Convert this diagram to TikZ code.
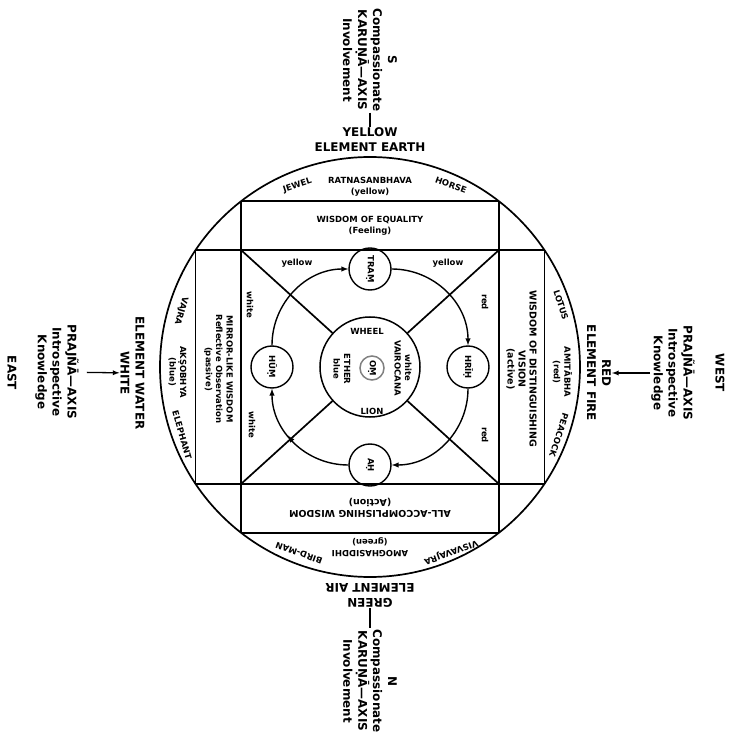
\documentclass[tikz,border=0pt]{standalone}
\usepackage{fontspec}
\setmainfont{DejaVu Sans}
\usetikzlibrary{decorations.markings}
\begin{document}
\begin{tikzpicture}[x=1bp, y=1bp,
    rim/.style={draw, line width=1.7bp},
    line/.style={draw, -latex, line width=1.4bp},
    big/.style={align=center, inner sep=1bp, font=\bfseries\fontsize{12}{15}\selectfont},
    lbl/.style={align=center, inner sep=1bp, font=\bfseries\fontsize{8.5}{10.5}\selectfont},
    ttl/.style={lbl, font=\bfseries\fontsize{9.5}{11}\selectfont},
    syl/.style={lbl, circle, draw, line width=1.4bp, minimum size=42bp, inner sep=0pt},
    sideways/.style={rotate=-90},
    upsidedown/.style={rotate=180}
]
    \useasboundingbox (-370,-373) rectangle (365,367);

    \draw [rim] (0,0) circle[radius=210];
    \draw [rim] (-174.4,117) -- (174.4,117);
    \draw [rim] (-174.4,-117) -- (174.4,-117);
    \draw [rim] (-129,165.7) -- (-129,-165.7);
    \draw [rim] (129,165.7) -- (129,-165.7);
    \draw [rim] (-129,165.7) -- (129,165.7);
    \draw [rim] (-129,-165.7) -- (129,-165.7);
    \draw [rim] (-174.4,117) -- (-174.4,-117);
    \draw [rim] (174.4,117) -- (174.4,-117);

    \coordinate (q1) at (129,117);
    \coordinate (q2) at (-129,117);
    \coordinate (q3) at (-129,-117);
    \coordinate (q4) at (129,-117);

    \node [circle, draw, line width=1.5bp, minimum size=100bp] (ctr) at (0,0) {};
    \node [lbl, sideways, circle, draw=gray, line width=1.5bp, minimum size=24bp, inner sep=0pt] (om) at (2,-1) {OṂ};
    \foreach \corner in {q1,q2,q3,q4}
        \draw [rim] (\corner) -- (ctr);

    \node [syl, sideways] (trm) at (0,98) {TRAṂ};
    \node [syl, sideways] (hrih) at (98,0) {HRĪḤ};
    \node [syl, sideways] (ah) at (0,-98) {AḤ};
    \node [syl, sideways] (hum) at (-98,0) {HŪṂ};

    \draw [line] (trm) to[bend left=45] (hrih);
    \draw [line] (hrih) to[bend left=45] (ah);
    \draw [line, postaction={decorate}, decoration={markings, mark=at position 0.58 with {\arrow{latex}}}] (ah) to[bend left=45] (hum);
    \draw [line] (hum) to[bend left=45] (trm);

    \node [lbl] (yl1) at (-73,104) {yellow};
    \node [lbl] (yl2) at (78,104) {yellow};
    \node [lbl, sideways] (rd1) at (115,65) {red};
    \node [lbl, sideways] (rd2) at (115,-68) {red};
    \node [lbl, sideways] (wh1) at (-120,62) {white};
    \node [lbl, sideways] (wh2) at (-118,-58) {white};

    \node [lbl] (whl) at (-3,36) {WHEEL};
    \node [lbl] (lion) at (2,-44) {LION};
    \node [lbl, sideways] (vai) at (33,-1) {white\\VAIROCANA};
    \node [lbl, sideways] (eth) at (-28,-2) {ETHER\\blue};

    \node [lbl] (eqw) at (0,141) {WISDOM OF EQUALITY\\(Feeling)};
    \node [ttl, upsidedown] (acw) at (0,-141) {ALL-ACCOMPLISHING WISDOM\\(Action)};
    \node [lbl, sideways] (mirw) at (-151.5,-2) {MIRROR-LIKE WISDOM\\Reflective Observation\\(passive)};
    \node [ttl, sideways] (disw) at (151.5,-2) {WISDOM OF DISTINGUISHING\\VISION\\(active)};

    \node [lbl] (rat) at (0,180) {RATNASANBHAVA\\(yellow)};
    \node [lbl, upsidedown] (amo) at (0,-180) {AMOGHASIDDHI\\(green)};
    \node [lbl, sideways] (aks) at (-192.5,-5) {AKṢOBHYA\\(blue)};
    \node [lbl, sideways] (ami) at (192.5,-5) {AMITĀBHA\\(red)};

    \node [lbl, rotate=18] (jwl) at (-72.5,181.5) {JEWEL};
    \node [lbl, rotate=-20] (hrs) at (81,182) {HORSE};
    \node [lbl, rotate=160] (brd) at (-71,-186) {BIRD-MAN};
    \node [lbl, rotate=200] (vis) at (81,-185) {VISVAVAJRA};
    \node [lbl, rotate=-106] (vjr) at (-189,56) {VAJRA};
    \node [lbl, rotate=-74] (elp) at (-188,-68) {ELEPHANT};
    \node [lbl, rotate=-72] (lts) at (191,62) {LOTUS};
    \node [lbl, rotate=-108] (pck) at (189,-68) {PEACOCK};

    \node [big, sideways] (sax) at (0,307) {S\\Compassionate\\KARUṆĀ—AXIS\\Involvement};
    \node [big] (yel) at (0,227) {YELLOW\\ELEMENT EARTH};
    \node [big, upsidedown] (grn) at (0,-228) {GREEN\\ELEMENT AIR};
    \node [big, sideways] (nax) at (0,-314) {N\\Compassionate\\KARUṆĀ—AXIS\\Involvement};
    \node [big, sideways] (east) at (-358,-6) {EAST};
    \node [big, sideways] (eax) at (-313,-5) {PRAJÑĀ—AXIS\\Introspective\\Knowledge};
    \node [big, sideways] (wat) at (-237.5,-6) {ELEMENT WATER\\WHITE};
    \node [big, sideways] (red) at (229,-6) {RED\\ELEMENT FIRE};
    \node [big, sideways] (wax) at (303,-6) {PRAJÑĀ—AXIS\\Introspective\\Knowledge};
    \node [big, sideways] (west) at (350,-6) {WEST};

    \draw [rim, line width=1.3bp] (sax) -- (yel);
    \draw [rim, line width=1.3bp] (grn) -- (nax);
    \draw [line, line width=1.3bp, shorten <=7bp] (eax) -- (wat);
    \draw [line, line width=1.3bp] (wax) -- (red);
\end{tikzpicture}
\end{document}
